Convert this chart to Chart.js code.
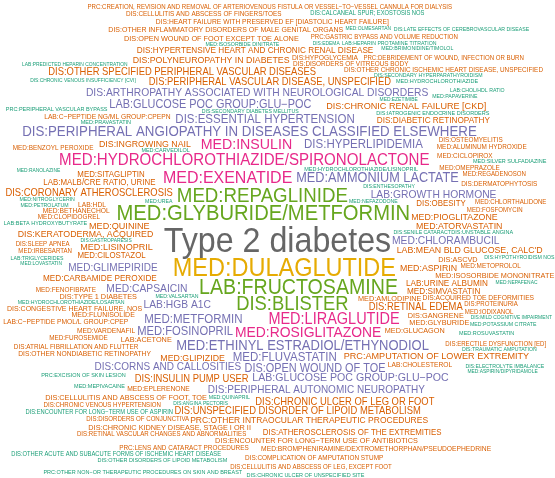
<!DOCTYPE html>
<html><head><meta charset="utf-8">
<script src="https://cdn.jsdelivr.net/npm/chart.js@4.4.1/dist/chart.umd.min.js"></script>
<style>html,body{margin:0;padding:0;background:#fff;overflow:hidden}</style>
</head><body>
<canvas id="c" width="555" height="478"></canvas>
<script>
// ---- data: terms and their frequencies (max = 100) ----
const terms = [
"Type 2 diabetes","MED:DULAGLUTIDE","MED:GLYBURIDE/METFORMIN","LAB:FRUCTOSAMINE","MED:REPAGLINIDE","DIS:BLISTER",
"MED:EXENATIDE","MED:HYDROCHLOROTHIAZIDE/SPIRONOLACTONE","MED:LIRAGLUTIDE","MED:INSULIN","MED:ROSIGLITAZONE",
"DIS:PERIPHERAL ANGIOPATHY IN DISEASES CLASSIFIED ELSEWHERE","MED:ETHINYL ESTRADIOL/ETHYNODIOL","MED:AMMONIUM LACTATE",
"DIS:HYPERLIPIDEMIA","MED:METFORMIN","MED:FLUVASTATIN","DIS:ESSENTIAL HYPERTENSION","MED:FOSINOPRIL","DIS:OPEN WOUND OF TOE",
"LAB:GLUCOSE POC GROUP:GLU\u2212POC","LAB:GLUCOSE POC GROUP:GLU\u2212POC ","DIS:ARTHROPATHY ASSOCIATED WITH NEUROLOGICAL DISORDERS",
"LAB:GROWTH HORMONE","LAB:HGB A1C","MED:CAPSAICIN","MED:CHLORAMBUCIL","DIS:PERIPHERAL AUTONOMIC NEUROPATHY","MED:GLIMEPIRIDE",
"DIS:CORNS AND CALLOSITIES",
// orange
"DIS:PERIPHERAL VASCULAR DISEASE, UNSPECIFIED","DIS:RETINAL EDEMA","DIS:INSULIN PUMP USER","DIS:CHRONIC ULCER OF LEG OR FOOT",
"DIS:UNSPECIFIED DISORDER OF LIPOID METABOLISM","DIS:CORONARY ATHEROSCLEROSIS","DIS:OTHER SPECIFIED PERIPHERAL VASCULAR DISEASES",
"DIS:CHRONIC RENAL FAILURE [CKD]","MED:LISINOPRIL","MED:QUININE","PRC:AMPUTATION OF LOWER EXTREMITY",
"DIS:KERATODERMA, ACQUIRED","LAB:MEAN BLD GLUCOSE, CALC'D","DIS:INGROWING NAIL","MED:PIOGLITAZONE","DIS:POLYNEUROPATHY IN DIABETES",
"MED:ATORVASTATIN","MED:ASPIRIN","MED:GLIPIZIDE","PRC:OTHER INTRAOCULAR THERAPEUTIC PROCEDURES",
"DIS:HYPERTENSIVE HEART AND CHRONIC RENAL DISEASE","MED:CARBAMIDE PEROXIDE","LAB:URINE ALBUMIN","DIS:DIABETIC RETINOPATHY",
"MED:SIMVASTATIN","DIS:ATHEROSCLEROSIS OF THE EXTREMITIES","MED:CILOSTAZOL","MED:SITAGLIPTIN","DIS:OBESITY","LAB:MALB/CRE RATIO, URINE",
"DIS:ENCOUNTER FOR LONG\u2212TERM USE OF ANTIBIOTICS","DIS:OPEN WOUND OF FOOT EXCEPT TOE ALONE","DIS:CELLULITIS AND ABSCESS OF FOOT, TOE",
"MED:ISOSORBIDE MONONITRATE","LAB:ACETONE","DIS:CHRONIC KIDNEY DISEASE, STAGE I OR II","MED:GLUCAGON","MED:AMLODIPINE",
"DIS:GANGRENE","MED:GLYBURIDE","DIS:ASCVD","DIS:TYPE 1 DIABETES","DIS:CONGESTIVE HEART FAILURE, NOS","MED:FLUNISOLIDE",
"DIS:OTHER INFLAMMATORY DISORDERS OF MALE GENITAL ORGANS","MED:BETHANECHOL","DIS:OTHER NONDIABETIC RETINOPATHY",
"DIS:HEART FAILURE WITH PRESERVED EF [DIASTOLIC HEART FAILURE]","MED:BROMPHENIRAMINE/DEXTROMETHORPHAN/PSEUDOEPHEDRINE",
"MED:EPLERENONE","LAB:C\u2212PEPTIDE PMOL/L GROUP:CPEP","DIS:ACQUIRED TOE DEFORMITIES","MED:VARDENAFIL","LAB:HDL","LAB:CHOLESTEROL",
"LAB:C\u2212PEPTIDE NG/ML GROUP:CPEPN","DIS:HYPOGLYCEMIA","DIS:DISORDERS OF VITREOUS BODY","DIS:COMPLICATION OF AMPUTATION STUMP",
"DIS:OTHER CHRONIC ISCHEMIC HEART DISEASE, UNSPECIFIED","DIS:CELLULITIS AND ABSCESS OF FINGERS/TOES","PRC:LENS AND CATARACT PROCEDURES",
"DIS:OSTEOMYELITIS","MED:CICLOPIROX","MED:BENZOYL PEROXIDE","MED:CLOPIDOGREL","MED:OMEPRAZOLE","MED:ALUMINUM HYDROXIDE",
"MED:FUROSEMIDE","DIS:DERMATOPHYTOSIS","MED:FENOFIBRATE","MED:METOPROLOL","DIS:ATRIAL FIBRILLATION AND FLUTTER",
"MED:FOSFOMYCIN","MED:IODIXANOL","DIS:ERECTILE DYSFUNCTION [ED]","MED:CHLORTHALIDONE","DIS:PROTEINURIA","DIS:SLEEP APNEA",
"MED:REGADENOSON","MED:IRBESARTAN","DIS:DISORDERS OF CONJUNCTIVA","DIS:CHRONIC VENOUS HYPERTENSION",
"PRC:GASTRIC BYPASS AND VOLUME REDUCTION","PRC:DEBRIDEMENT OF WOUND, INFECTION OR BURN",
"PRC:CREATION, REVISION AND REMOVAL OF ARTERIOVENOUS FISTULA OR VESSEL\u2212TO\u2212VESSEL CANNULA FOR DIALYSIS",
"DIS:RETINAL VASCULAR CHANGES AND ABNORMALITIES","DIS:CELLULITIS AND ABSCESS OF LEG, EXCEPT FOOT",
// teal
"DIS:OTHER ACUTE AND SUBACUTE FORMS OF ISCHEMIC HEART DISEASE","DIS:DEGENERATION OF MACULA AND POSTERIOR POLE OF RETINA",
"DIS:ENCOUNTER FOR LONG\u2212TERM USE OF ASPIRIN","DIS:CALCANEAL SPUR; EXOSTOSIS NOS","LAB:BETA HYDROXYBUTYRATE",
"DIS:IATROGENIC ENDOCRINE DISORDERS","MED:CARVEDILOL","DIS:UNSTABLE ANGINA","MED:HYDROCHLOROTHIAZIDE/LISINOPRIL","MED:ROSUVASTATIN",
"MED:PRAVASTATIN","DIS:CHRONIC ULCER OF UNSPECIFIED SITE","PRC:PERIPHERAL VASCULAR BYPASS","MED:HYDROCHLOROTHIAZIDE",
"MED:SILVER SULFADIAZINE","DIS:OTHER DISORDERS OF LIPOID METABOLISM","PRC:EXCISION OF SKIN LESION","MED:MEPIVACAINE",
"PRC:OTHER NON\u2212OR THERAPEUTIC PROCEDURES ON SKIN AND BREAST","MED:HYDROCHLOROTHIAZIDE/LOSARTAN","DIS:SECONDARY DIABETES MELLITUS",
"LAB:HEPARIN PROTAMINE TITRATION","MED:PETROLATUM","MED:QUINAPRIL","LAB:TRIGLYCERIDES","DIS:ENTHESOPATHY","MED:ISOSORBIDE DINITRATE",
"LAB:CHOL/HDL RATIO","MED:UREA","MED:VALSARTAN","DIS:SECONDARY HYPERPARATHYROIDISM","MED:POTASSIUM CITRATE","MED:PAPAVERINE",
"DIS:TRAUMATIC AMPUTATION","DIS:SENILE CATARACT","DIS:LATE EFFECTS OF CEREBROVASCULAR DISEASE","MED:BRIMONIDINE/TIMOLOL",
"MED:NITROGLYCERIN","DIS:ELECTROLYTE IMBALANCE","DIS:HYPOTHYROIDISM NOS",
"DIS:HEART FAILURE WITH REDUCED EF [SYSTOLIC OR COMBINED HEART FAILURE]","MED:NEFAZODONE","DIS:EDEMA","MED:NEPAFENAC",
"DIS:MILD COGNITIVE IMPAIRMENT","MED:EZETIMIBE","MED:RANOLAZINE","MED:OLMESARTAN","DIS:CHRONIC VENOUS INSUFFICIENCY [CVI]",
"DIS:ANGINA PECTORIS","MED:LOVASTATIN","MED:ASPIRIN/DIPYRIDAMOLE","DIS:GASTROPARESIS","LAB:PREDICTED HEPARIN CONCENTRATION"
];
const freqs = [
100,71,60,58,55,54,
46,43,41,40,39,
37,36,35,
31,31,31,31,30,29,
29,28,27,
27,27,27,27,26,26,
26,
24,24,24,24,
24,24,24,
23,23,23,23,
22,22,22,22,22,
22,22,22,21,
20,20,20,20,
20,19,19,19,19,19,
17,17,17,
17,17,17,17,17,
17,17,17,17,16,16,
16,15,15,
15,15,
15,15,15,15,15,15,
15,15,14,14,
14,14,14,
14,14,14,14,14,14,
14,14,14,14,14,
13,13,13,13,13,13,
13,13,13,13,
13,13,
13,
13,13,
12,12,
12,12,11,
11,11,11,11,11,
11,11,11,11,
11,11,11,11,
11,10,10,
10,10,10,10,10,10,
10,10,10,10,10,10,10,
10,10,10,10,10,
10,10,
10,9,9,9,
9,9,9,9,9,
9,9,9,9,9
];
const palette = ["#1B9E77","#D95F02","#7570B3","#E7298A","#66A61E","#E6AB02","#A6761D","#666666"];
const sizeRange = [2.4, 35];   // font px at freq 0 and at max freq

// ---- layout (spiral placement, largest first) ----
const W = 555, H = 478, SQ = 0.92, FONT = '"Liberation Sans", Arial, Helvetica, sans-serif';
function rng(seed){return function(){seed|=0;seed=seed+0x6D2B79F5|0;let t=Math.imul(seed^seed>>>15,1|seed);t=t+Math.imul(t^t>>>7,61|t)^t;return((t^t>>>14)>>>0)/4294967296;};}
const rand = rng(3);
const mctx = document.createElement('canvas').getContext('2d');
const maxF = Math.max(...freqs);
const order = terms.map((t,i)=>i).sort((a,b)=>freqs[b]-freqs[a]);
const boxes = [], placed = [];
function overlap(x,y,w,h){for(const b of boxes){if(x<b.x+b.w&&x+w>b.x&&y<b.y+b.h&&y+h>b.y)return true;}return false;}
for(const i of order){
  const nf = freqs[i]/maxF;
  const size = sizeRange[0]+(sizeRange[1]-sizeRange[0])*nf;
  mctx.font = size+'px '+FONT;
  const text = terms[i].trim();
  const wpx = mctx.measureText(text).width*SQ + 0.5;
  const cap = size*0.716;
  let hpx = cap*1.1 + 0.4; if(/[gjpqy]/.test(text)) hpx += cap*0.2;
  const wn = wpx/W, hn = hpx/H;
  let r = 0, theta = rand()*2*Math.PI;
  while(true){
    const cx = 0.5 + r*Math.cos(theta), cy = 0.5 + r*Math.sin(theta);
    const x1 = cx-wn/2, y1 = cy-hn/2;
    if(x1>0&&y1>0&&x1+wn<1&&y1+hn<1&&!overlap(x1,y1,wn,hn)){
      boxes.push({x:x1,y:y1,w:wn,h:hn});
      placed.push({x:cx,y:cy,text,size,cap,color:palette[Math.max(0,Math.ceil(palette.length*nf)-1)]});
      break;
    }
    if(r>Math.SQRT1_2) break;
    theta += 0.1; r += 0.05*0.1/(2*Math.PI);
  }
}

const wordPlugin = {
  id:'wordText',
  afterDatasetsDraw(chart){
    const ctx = chart.ctx, meta = chart.getDatasetMeta(0);
    meta.data.forEach((pt,k)=>{
      const w = placed[k];
      ctx.save();
      ctx.translate(pt.x, pt.y + w.cap/2);
      ctx.scale(SQ,1);
      ctx.font = w.size+'px '+FONT;
      ctx.fillStyle = w.color;
      ctx.textAlign = 'center';
      ctx.textBaseline = 'alphabetic';
      ctx.fillText(w.text,0,0);
      ctx.restore();
    });
  }
};

new Chart(document.getElementById('c'),{
  type:'scatter',
  data:{datasets:[{data:placed.map(p=>({x:p.x,y:p.y})),pointRadius:0,pointHoverRadius:0}]},
  options:{
    responsive:false,animation:false,events:[],
    layout:{padding:0},
    plugins:{legend:{display:false},tooltip:{enabled:false}},
    scales:{x:{type:'linear',min:0,max:1,display:false},y:{type:'linear',min:0,max:1,reverse:true,display:false}}
  },
  plugins:[wordPlugin]
});
</script>
</body></html>
